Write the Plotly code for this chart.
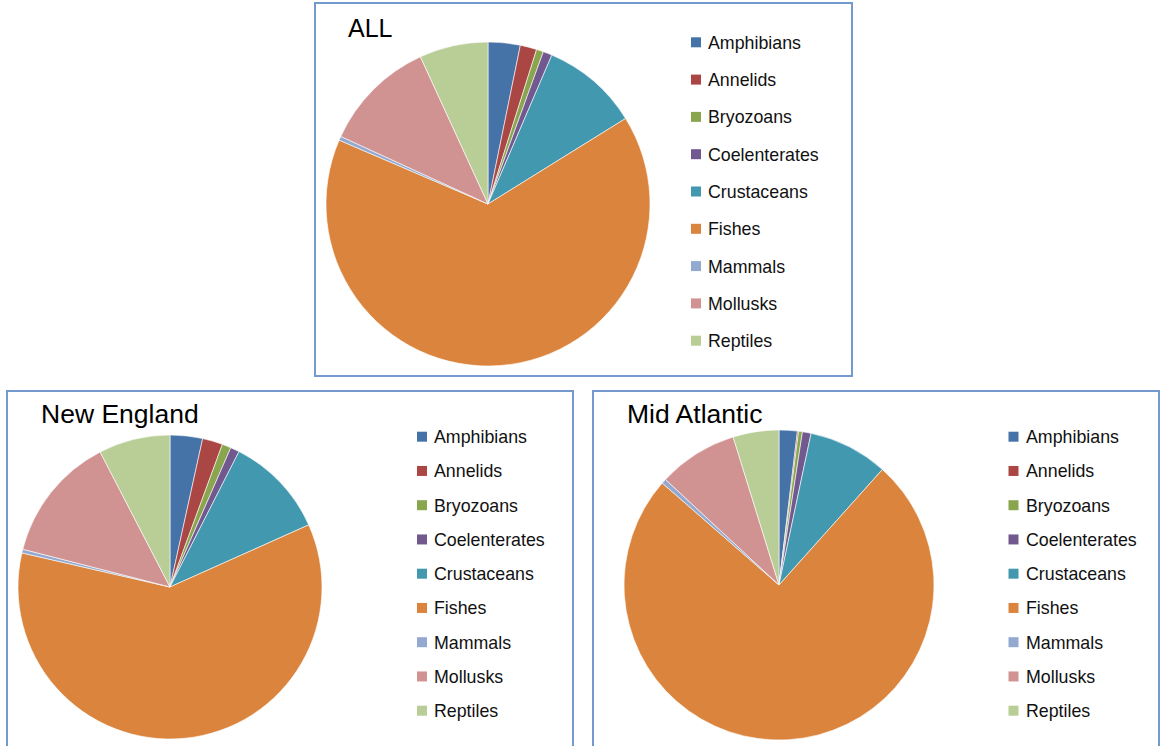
import plotly.graph_objects as go

# Share of species by taxonomic group, per region (percent)
categories = ["Amphibians", "Annelids", "Bryozoans", "Coelenterates", "Crustaceans",
              "Fishes", "Mammals", "Mollusks", "Reptiles"]
colors = ["#4572A7", "#AA4643", "#89A54E", "#71588F", "#4198AF",
          "#DB843D", "#93A9CF", "#D19392", "#B9CD96"]

all_values = [3.2, 1.65, 0.7, 0.9, 9.7, 65.3, 0.4, 11.3, 6.85]
new_england_values = [3.45, 2.15, 0.95, 0.95, 10.8, 60.3, 0.4, 13.4, 7.6]
mid_atlantic_values = [1.9, 0.12, 0.4, 0.9, 8.3, 74.8, 0.5, 8.3, 4.78]

titles = ["ALL", "New England", "Mid Atlantic"]

W, H = 1160, 746


def px(x):
    return x / W


def py(y):
    return 1 - y / H


# panel geometry in page pixels
panels = [
    dict(values=all_values, title=titles[0], box=(315, 3, 852, 376),
         center=(488, 204), r=162, title_xy=(346, 28), title_size=25,
         leg_x=691, leg_y0=42.3, leg_dy=37.3),
    dict(values=new_england_values, title=titles[1], box=(7, 391, 573, 760),
         center=(170, 587), r=152, title_xy=(39, 414), title_size=26.5,
         leg_x=417, leg_y0=436.7, leg_dy=34.25),
    dict(values=mid_atlantic_values, title=titles[2], box=(593, 391, 1159, 760),
         center=(779, 585), r=155, title_xy=(625, 414), title_size=26.5,
         leg_x=1008.5, leg_y0=436.7, leg_dy=34.25),
]

fig = go.Figure()
shapes = []
annotations = []
box_color = "#7399CF"

for p in panels:
    cx, cy = p["center"]
    r = p["r"]
    fig.add_trace(go.Pie(
        labels=categories,
        values=p["values"],
        sort=False,
        direction="clockwise",
        rotation=0,
        textinfo="none",
        hoverinfo="label+percent",
        marker=dict(colors=colors, line=dict(color="white", width=0.6)),
        domain=dict(x=[px(cx - r), px(cx + r)], y=[py(cy + r), py(cy - r)]),
        showlegend=False,
    ))

    x0, y0, x1, y1 = p["box"]
    shapes.append(dict(type="rect", xref="paper", yref="paper",
                       x0=px(x0), x1=px(x1), y0=py(y1), y1=py(y0),
                       line=dict(color=box_color, width=2), fillcolor="rgba(0,0,0,0)"))

    tx, ty = p["title_xy"]
    annotations.append(dict(text=p["title"], xref="paper", yref="paper",
                            x=px(tx), y=py(ty), xanchor="left", yanchor="middle",
                            showarrow=False,
                            font=dict(family="Liberation Sans, Arial", size=p["title_size"],
                                      color="black")))

    # legend: colour square plus label per category
    for i, (cat, col) in enumerate(zip(categories, colors)):
        yc = p["leg_y0"] + i * p["leg_dy"]
        lx = p["leg_x"]
        shapes.append(dict(type="rect", xref="paper", yref="paper",
                           x0=px(lx), x1=px(lx + 10), y0=py(yc + 5), y1=py(yc - 5),
                           line=dict(width=0), fillcolor=col))
        annotations.append(dict(text=cat, xref="paper", yref="paper",
                                x=px(lx + 15), y=py(yc + 0.5), xanchor="left", yanchor="middle",
                                showarrow=False,
                                font=dict(family="Liberation Sans, Arial", size=17.8,
                                          color="#111111")))

fig.update_layout(
    width=W, height=H,
    margin=dict(l=0, r=0, t=0, b=0),
    paper_bgcolor="white",
    plot_bgcolor="white",
    shapes=shapes,
    annotations=annotations,
    showlegend=False,
)

fig.write_html("out.html")
